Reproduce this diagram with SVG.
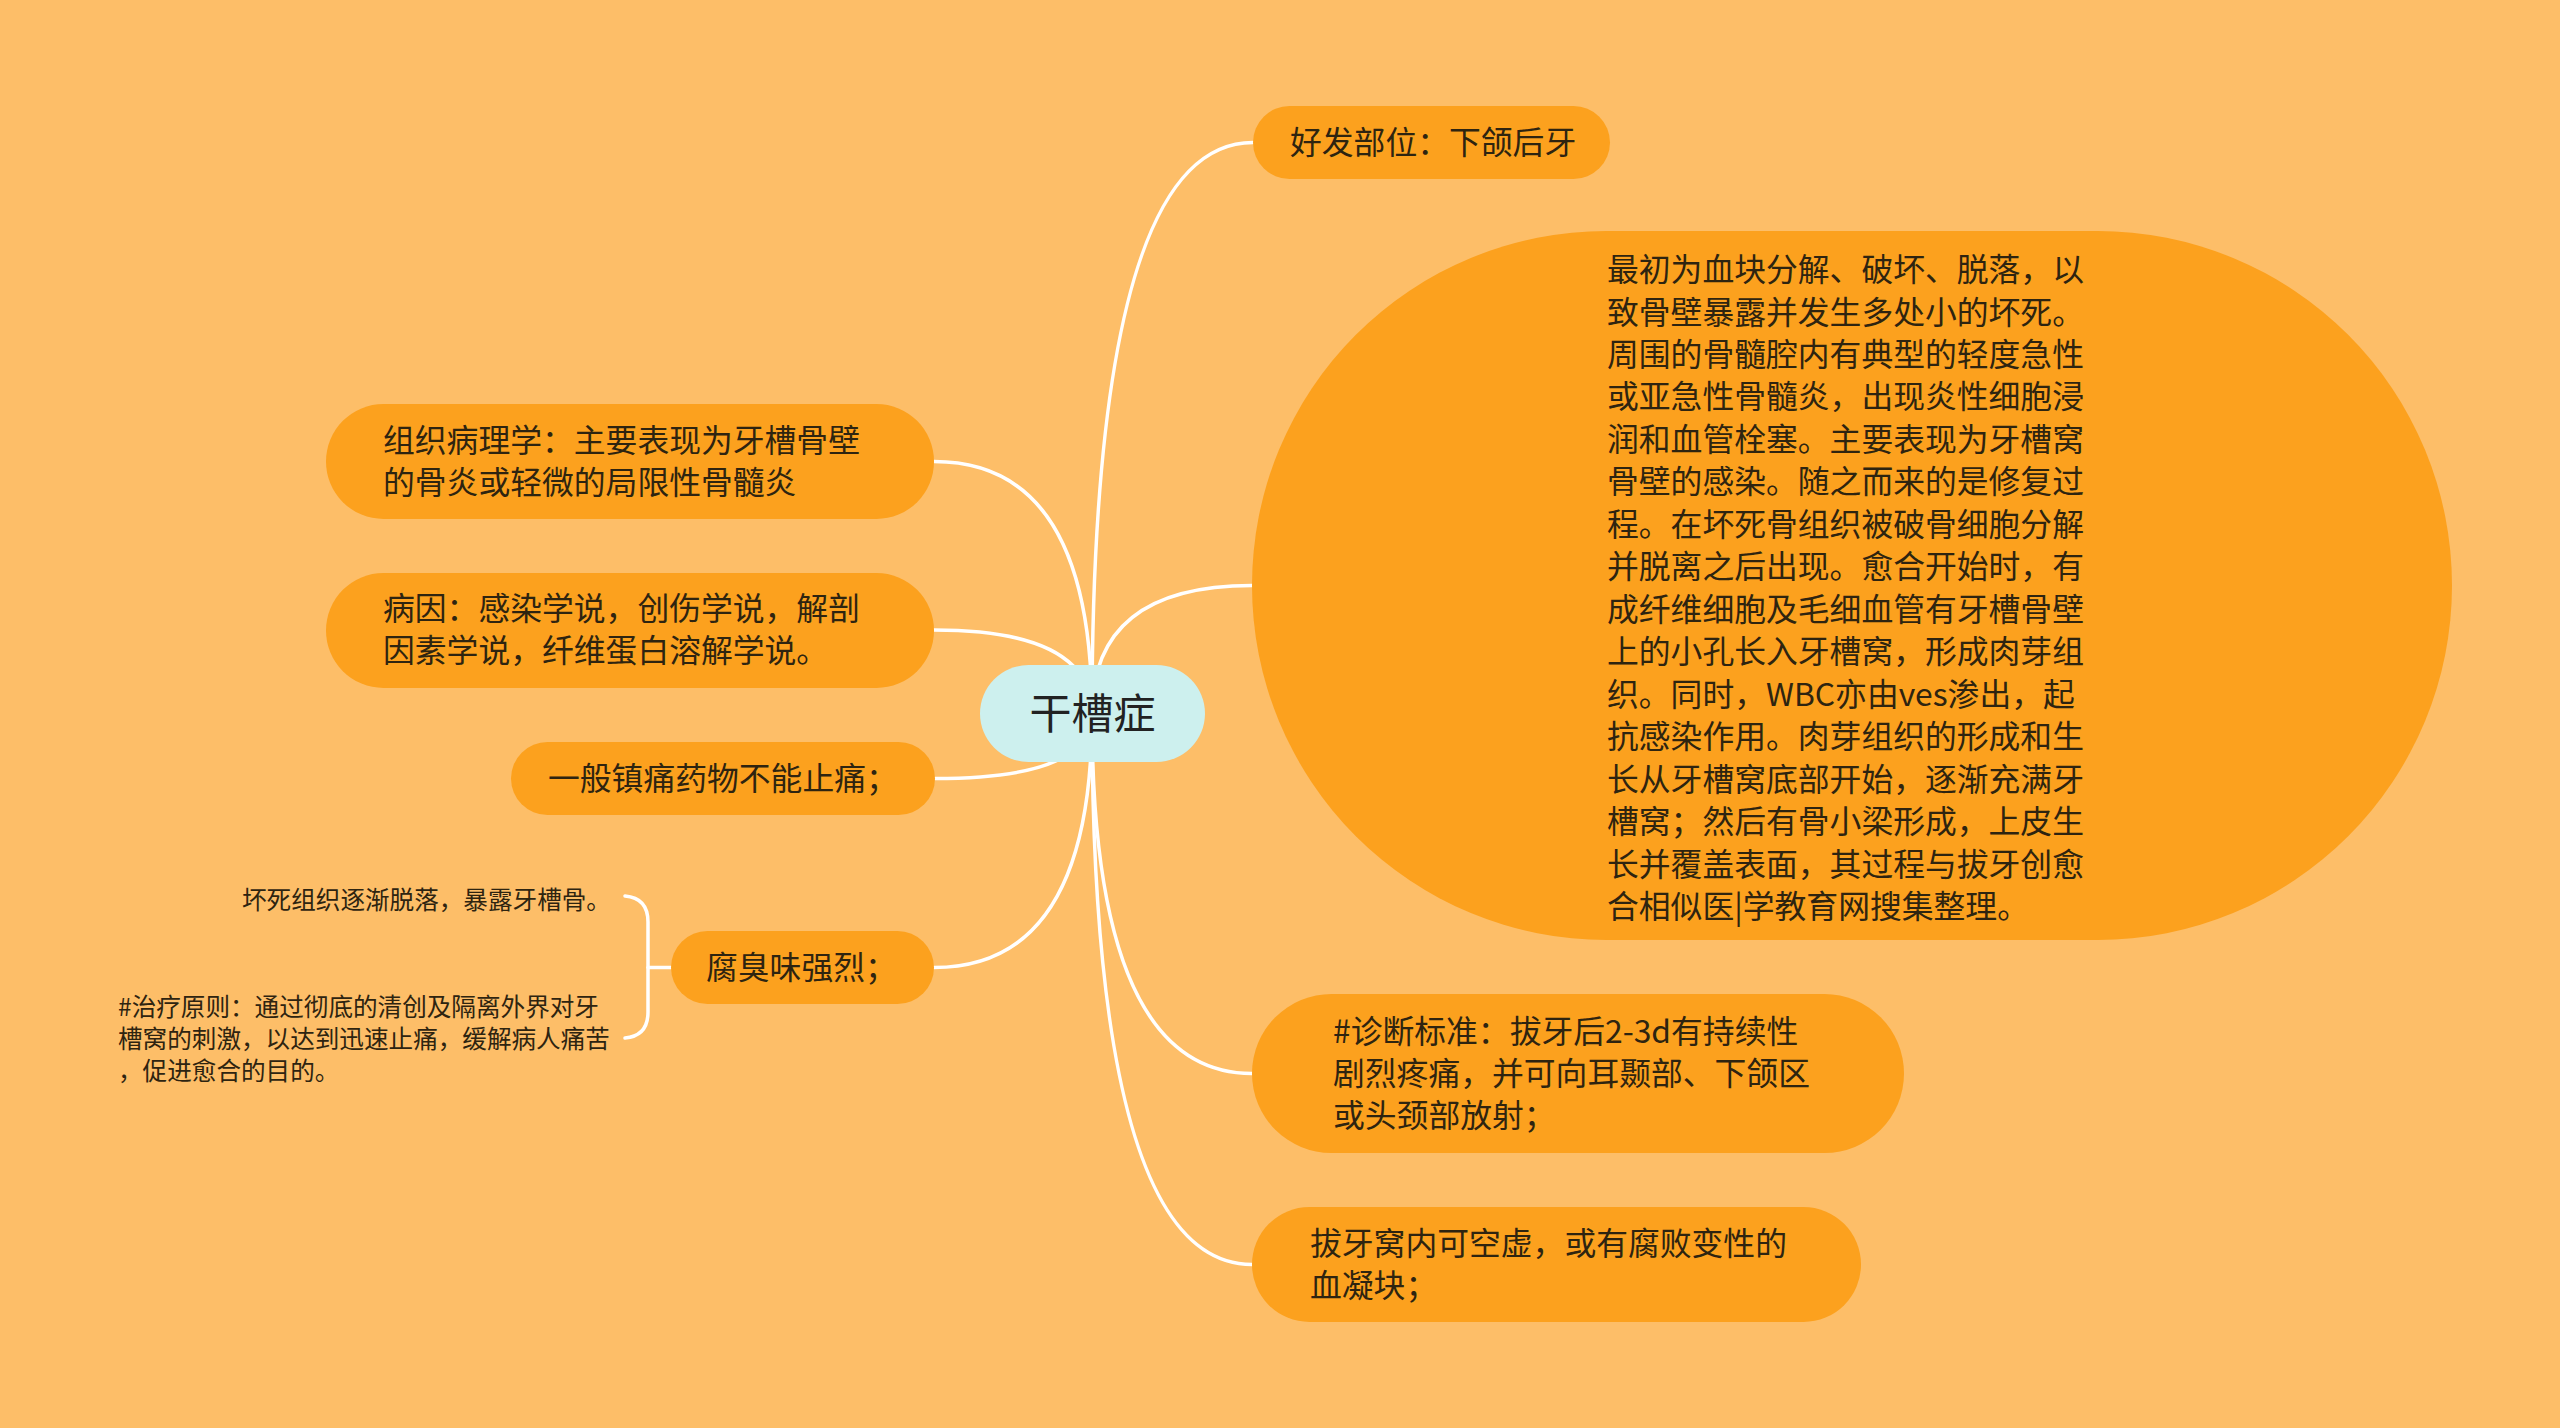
<svg xmlns="http://www.w3.org/2000/svg" width="2560" height="1428" viewBox="0 0 2560 1428">
<style>
.node{fill:#fca11e;}
.t{font-family:"Noto Sans CJK SC","Noto Sans",sans-serif;font-size:31.8px;fill:#2e2410;}
.s{font-family:"Noto Sans CJK SC","Noto Sans",sans-serif;font-size:24.6px;fill:#2e2410;}
.c{fill:none;stroke:#ffffff;stroke-width:3.5;stroke-linecap:round;}
</style>
<rect x="0" y="0" width="2560" height="1428" fill="#fdbe68"/>
<g id="connectors">
<path class="c" d="M1092,714 Q1092,142.5 1253,142.5"/>
<path class="c" d="M1092,714 Q1092,585.5 1252,585.5"/>
<path class="c" d="M1092,714 Q1092,1073.5 1252,1073.5"/>
<path class="c" d="M1092,714 Q1092,1264.5 1252,1264.5"/>
<path class="c" d="M1092,714 Q1092,461.5 934,461.5"/>
<path class="c" d="M1092,714 Q1092,630 934,630"/>
<path class="c" d="M1092,714 Q1092,778.5 935,778.5"/>
<path class="c" d="M1092,714 Q1092,967.5 934,967.5"/>
<path class="c" d="M671,967.5 L648,967.5"/>
<path class="c" d="M625,896 Q648,898 648,922 L648,1012 Q648,1036 625,1038"/>
</g>
<g id="center">
<rect x="980" y="665" width="225" height="97" rx="48.5" fill="#cdf0ee"/>
<text x="1092.5" y="729" text-anchor="middle" style="font-family:'Noto Sans CJK SC','Noto Sans',sans-serif;font-size:42px;fill:#222;">干槽症</text>
</g>
<g id="n-haofa">
<rect class="node" x="1253" y="106" width="357" height="73" rx="36.5"/>
<text class="t" x="1290" y="153.5">好发部位：下颌后牙</text>
</g>
<g id="n-big">
<rect class="node" x="1252" y="231" width="1200" height="709" rx="354.5"/>
<text class="t" x="1607" y="281">
<tspan x="1607" y="281">最初为血块分解、破坏、脱落，以</tspan>
<tspan x="1607" y="323.5">致骨壁暴露并发生多处小的坏死。</tspan>
<tspan x="1607" y="366">周围的骨髓腔内有典型的轻度急性</tspan>
<tspan x="1607" y="408.4">或亚急性骨髓炎，出现炎性细胞浸</tspan>
<tspan x="1607" y="450.9">润和血管栓塞。主要表现为牙槽窝</tspan>
<tspan x="1607" y="493.4">骨壁的感染。随之而来的是修复过</tspan>
<tspan x="1607" y="535.8">程。在坏死骨组织被破骨细胞分解</tspan>
<tspan x="1607" y="578.3">并脱离之后出现。愈合开始时，有</tspan>
<tspan x="1607" y="620.8">成纤维细胞及毛细血管有牙槽骨壁</tspan>
<tspan x="1607" y="663.2">上的小孔长入牙槽窝，形成肉芽组</tspan>
<tspan x="1607" y="705.7">织。同时，WBC亦由ves渗出，起</tspan>
<tspan x="1607" y="748.2">抗感染作用。肉芽组织的形成和生</tspan>
<tspan x="1607" y="790.6">长从牙槽窝底部开始，逐渐充满牙</tspan>
<tspan x="1607" y="833.1">槽窝；然后有骨小梁形成，上皮生</tspan>
<tspan x="1607" y="875.6">长并覆盖表面，其过程与拔牙创愈</tspan>
<tspan x="1607" y="918">合相似医|学教育网搜集整理。</tspan>
</text>
</g>
<g id="n-zhenduan">
<rect class="node" x="1252" y="994" width="652" height="159" rx="79.5"/>
<text class="t"><tspan x="1333" y="1042.5">#诊断标准：拔牙后2-3d有持续性</tspan><tspan x="1333" y="1084.5">剧烈疼痛，并可向耳颞部、下颌区</tspan><tspan x="1333" y="1126.5">或头颈部放射；</tspan></text>
</g>
<g id="n-bayawo">
<rect class="node" x="1252" y="1207" width="609" height="115" rx="57.5"/>
<text class="t"><tspan x="1310" y="1254.5">拔牙窝内可空虚，或有腐败变性的</tspan><tspan x="1310" y="1296.5">血凝块；</tspan></text>
</g>
<g id="n-zuzhi">
<rect class="node" x="326" y="404" width="608" height="115" rx="57.5"/>
<text class="t"><tspan x="383" y="451.5">组织病理学：主要表现为牙槽骨壁</tspan><tspan x="383" y="493.5">的骨炎或轻微的局限性骨髓炎</tspan></text>
</g>
<g id="n-bingyin">
<rect class="node" x="326" y="573" width="608" height="115" rx="57.5"/>
<text class="t"><tspan x="383" y="620">病因：感染学说，创伤学说，解剖</tspan><tspan x="383" y="662">因素学说，纤维蛋白溶解学说。</tspan></text>
</g>
<g id="n-yiban">
<rect class="node" x="511" y="742" width="424" height="73" rx="36.5"/>
<text class="t" x="548" y="789.5">一般镇痛药物不能止痛；</text>
</g>
<g id="n-fuchou">
<rect class="node" x="671" y="931" width="263" height="73" rx="36.5"/>
<text class="t" x="706" y="978.5">腐臭味强烈；</text>
</g>
<g id="n-huaisi">
<text class="s" x="242" y="908.5">坏死组织逐渐脱落，暴露牙槽骨。</text>
</g>
<g id="n-zhiliao">
<text class="s"><tspan x="118" y="1015.5">#治疗原则：通过彻底的清创及隔离外界对牙</tspan><tspan x="118" y="1047.5">槽窝的刺激，以达到迅速止痛，缓解病人痛苦</tspan><tspan x="118" y="1079.5">，促进愈合的目的。</tspan></text>
</g>
</svg>
